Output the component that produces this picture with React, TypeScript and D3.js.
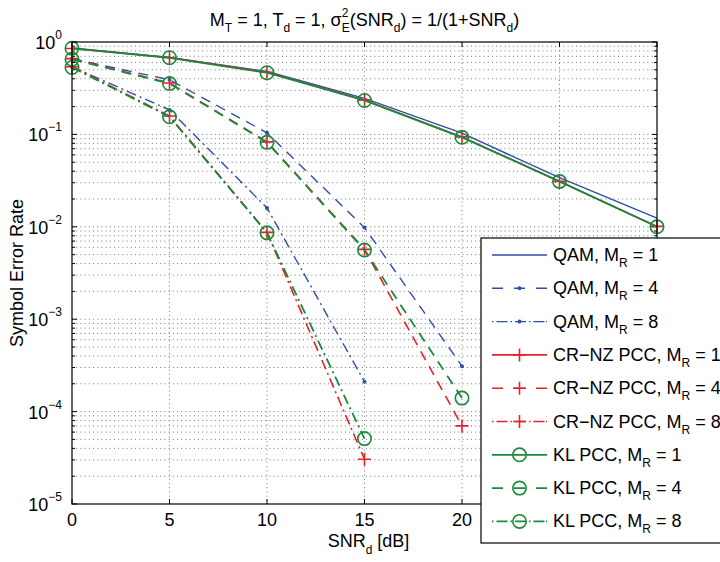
import React from "react";
import * as d3 from "d3";

// SNR_d [dB]
const snr = [0, 5, 10, 15, 20, 25, 30];

// symbol error rate
const qam1 = [0.86, 0.68, 0.48, 0.245, 0.103, 0.034, 0.0124];
const qam4 = [0.66, 0.39, 0.104, 0.0098, 0.00031];
const qam8 = [0.54, 0.184, 0.016, 0.00021];
const crnz1 = [0.85, 0.68, 0.47, 0.235, 0.094, 0.031, 0.0101];
const crnz4 = [0.66, 0.36, 0.083, 0.0057, 0.00007];
const crnz8 = [0.54, 0.158, 0.0087, 0.0000305];
const kl1 = [0.855, 0.675, 0.465, 0.233, 0.093, 0.031, 0.01];
const kl4 = [0.65, 0.355, 0.082, 0.0056, 0.00014];
const kl8 = [0.53, 0.155, 0.0086, 0.000051];

const xTicks = [0, 5, 10, 15, 20, 25, 30];
const yExps = [0, -1, -2, -3, -4, -5];

const BLUE = "#2f4fa6";
const RED = "#e8202b";
const GREEN = "#198a3c";
const FONT = "'Liberation Sans', Arial, Helvetica, sans-serif";

const DASH = "10,7";
const DASHDOT = "10,4,2,4";

type Series = {
  label: string;
  mr: number;
  values: number[];
  color: string;
  dash: string | null;
  marker: "none" | "dot" | "plus" | "circle";
  width: number;
};

const series: Series[] = [
  { label: "QAM", mr: 1, values: qam1, color: BLUE, dash: null, marker: "none", width: 1.4 },
  { label: "QAM", mr: 4, values: qam4, color: BLUE, dash: DASH, marker: "dot", width: 1.4 },
  { label: "QAM", mr: 8, values: qam8, color: BLUE, dash: DASHDOT, marker: "dot", width: 1.4 },
  { label: "CR\u2212NZ PCC", mr: 1, values: crnz1, color: RED, dash: null, marker: "plus", width: 1.6 },
  { label: "CR\u2212NZ PCC", mr: 4, values: crnz4, color: RED, dash: DASH, marker: "plus", width: 1.6 },
  { label: "CR\u2212NZ PCC", mr: 8, values: crnz8, color: RED, dash: DASHDOT, marker: "plus", width: 1.6 },
  { label: "KL PCC", mr: 1, values: kl1, color: GREEN, dash: null, marker: "circle", width: 1.8 },
  { label: "KL PCC", mr: 4, values: kl4, color: GREEN, dash: DASH, marker: "circle", width: 1.8 },
  { label: "KL PCC", mr: 8, values: kl8, color: GREEN, dash: DASHDOT, marker: "circle", width: 1.8 },
];

const W = 720;
const H = 562;
const left = 72;
const right = 657;
const top = 42;
const bottom = 504;
const legendX = 481;
const legendY = 238;
const rowH = 33.3;

function Marker({ kind, x, y, color }: { kind: string; x: number; y: number; color: string }) {
  if (kind === "dot") return <circle cx={x} cy={y} r={2} fill={color} />;
  if (kind === "plus")
    return (
      <path
        d={`M${x - 6.5},${y}H${x + 6.5}M${x},${y - 6.5}V${y + 6.5}`}
        stroke={color}
        strokeWidth={1.6}
        fill="none"
      />
    );
  if (kind === "circle")
    return <circle cx={x} cy={y} r={6.7} stroke={color} strokeWidth={1.6} fill="none" />;
  return null;
}

export default function App() {
  const x = d3.scaleLinear().domain([0, 30]).range([left, right]);
  const y = d3.scaleLog().domain([1e-5, 1]).range([bottom, top]);

  const line = d3
    .line<number>()
    .x((_, i) => x(snr[i]))
    .y((d) => y(d));

  const minor: number[] = [];
  for (let e = -5; e < 0; e++) for (let m = 2; m <= 9; m++) minor.push(m * Math.pow(10, e));

  // labels of 25 and 30 sit under the legend box
  const visibleXLabels = xTicks.filter((t) => x(t) + 12 < legendX);

  return (
    <div style={{ position: "absolute", left: 0, top: 0 }}>
      <svg width={W} height={H} style={{ display: "block", background: "#fff" }} fontFamily={FONT}>
        {/* grid */}
        <g stroke="#777" strokeWidth={1} strokeDasharray="1,3.2" fill="none">
          {xTicks.slice(1, -1).map((t) => (
            <line key={"gx" + t} x1={x(t)} x2={x(t)} y1={top} y2={bottom} />
          ))}
          {yExps.slice(1, -1).map((e) => (
            <line key={"gy" + e} x1={left} x2={right} y1={y(Math.pow(10, e))} y2={y(Math.pow(10, e))} />
          ))}
          {minor.map((v) => (
            <line key={"gm" + v} x1={left} x2={right} y1={y(v)} y2={y(v)} />
          ))}
        </g>

        {/* ticks */}
        <g stroke="#000" strokeWidth={1}>
          {xTicks.map((t) => (
            <g key={"tx" + t}>
              <line x1={x(t)} x2={x(t)} y1={bottom} y2={bottom - 5} />
              <line x1={x(t)} x2={x(t)} y1={top} y2={top + 5} />
            </g>
          ))}
          {yExps.map((e) => (
            <g key={"ty" + e}>
              <line x1={left} x2={left + 5} y1={y(Math.pow(10, e))} y2={y(Math.pow(10, e))} />
              <line x1={right} x2={right - 5} y1={y(Math.pow(10, e))} y2={y(Math.pow(10, e))} />
            </g>
          ))}
          {minor.map((v) => (
            <g key={"tm" + v}>
              <line x1={left} x2={left + 3} y1={y(v)} y2={y(v)} />
              <line x1={right} x2={right - 3} y1={y(v)} y2={y(v)} />
            </g>
          ))}
        </g>

        {/* series */}
        {series.map((s, k) => (
          <g key={"s" + k}>
            <path
              d={line(s.values) || ""}
              fill="none"
              stroke={s.color}
              strokeWidth={s.width}
              strokeDasharray={s.dash || undefined}
            />
            {s.values.map((v, i) => (
              <Marker key={i} kind={s.marker} x={x(snr[i])} y={y(v)} color={s.color} />
            ))}
          </g>
        ))}

        {/* axes box */}
        <rect x={left} y={top} width={right - left} height={bottom - top} fill="none" stroke="#000" strokeWidth={1.2} />

        {/* tick labels */}
        <g fontSize={18} fill="#000">
          {visibleXLabels.map((t) => (
            <text key={"lx" + t} x={x(t)} y={bottom + 22} textAnchor="middle">
              {t}
            </text>
          ))}
          {yExps.map((e) => {
            const yy = y(Math.pow(10, e));
            const expText = e === 0 ? "0" : "\u2212" + Math.abs(e);
            return (
              <text key={"ly" + e} x={left - 10} y={yy + 7} textAnchor="end">
                10
                <tspan fontSize={12} dy={-10}>
                  {expText}
                </tspan>
              </text>
            );
          })}
        </g>

        {/* axis titles */}
        <text x={(left + right) / 2 + 4} y={bottom + 43} textAnchor="middle" fontSize={18}>
          SNR
          <tspan fontSize={12} dy={7}>d</tspan>
          <tspan dy={-7}> [dB]</tspan>
        </text>
        <text
          transform={`translate(23,${(top + bottom) / 2}) rotate(-90)`}
          textAnchor="middle"
          fontSize={18}
        >
          Symbol Error Rate
        </text>
        <text x={(left + right) / 2} y={26} textAnchor="middle" fontSize={18}>
          M<tspan fontSize={12} dy={6}>T</tspan>
          <tspan dy={-6}> = 1, T</tspan>
          <tspan fontSize={12} dy={6}>d</tspan>
          <tspan dy={-6}> = 1, σ</tspan>
          <tspan fontSize={12} dy={-9}>2</tspan>
          <tspan fontSize={12} dx={-6.7} dy={15}>E</tspan>
          <tspan dy={-6}>(SNR</tspan>
          <tspan fontSize={12} dy={6}>d</tspan>
          <tspan dy={-6}>) = 1/(1+SNR</tspan>
          <tspan fontSize={12} dy={6}>d</tspan>
          <tspan dy={-6}>)</tspan>
        </text>

        {/* legend */}
        <g>
          <rect x={legendX} y={legendY} width={W + 20 - legendX} height={305} fill="#fff" stroke="#000" strokeWidth={1.2} />
          {series.map((s, k) => {
            const ry = legendY + 17 + k * rowH;
            return (
              <g key={"lg" + k}>
                <line
                  x1={legendX + 11}
                  x2={legendX + 66}
                  y1={ry}
                  y2={ry}
                  stroke={s.color}
                  strokeWidth={s.width}
                  strokeDasharray={s.dash ? (s.dash === DASH ? "11,11" : "1.5,3,11,3,1.5,3,11,3,1.5,3,11") : undefined}
                />
                <Marker kind={s.marker} x={legendX + 38.5} y={ry} color={s.color} />
                <text x={legendX + 72} y={ry + 6} fontSize={18}>
                  {s.label}, M
                  <tspan fontSize={12} dy={6}>R</tspan>
                  <tspan dy={-6}> = {s.mr}</tspan>
                </text>
              </g>
            );
          })}
        </g>
      </svg>
    </div>
  );
}
